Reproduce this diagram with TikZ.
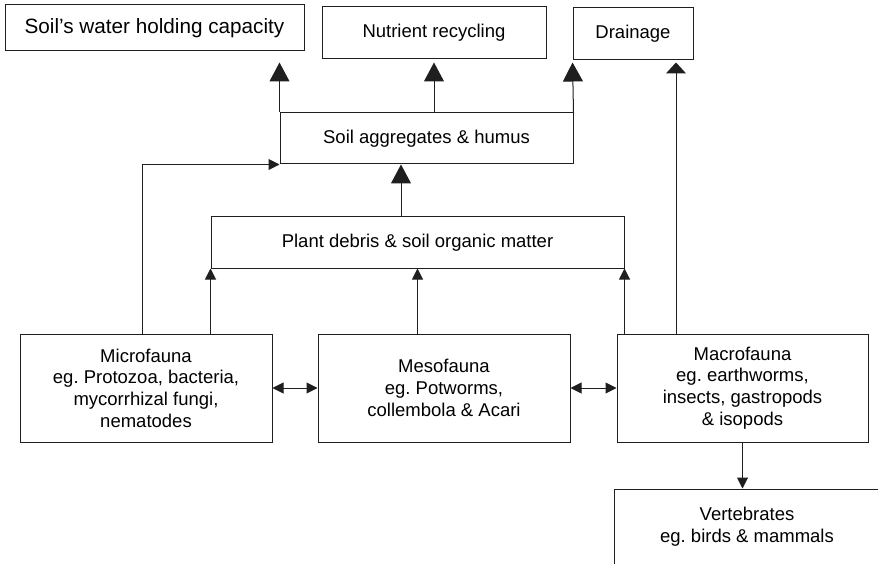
\documentclass[tikz,border=0pt]{standalone}
\usepackage{fontspec}
\setmainfont{Liberation Sans}
\usetikzlibrary{arrows.meta}
\frenchspacing
\begin{document}
\begin{tikzpicture}[x=1pt,y=-1pt,
  box/.style={draw=black!88, line width=1pt, fill=white, inner sep=0pt, align=center,
    font=\fontsize{18.5}{21.7}\selectfont},
  link/.style={draw=black!88, line width=1pt},
  bighead/.style={link, -{Triangle[width=20pt,length=19pt]}},
  flathead/.style={link, -{Triangle[width=20pt,length=11pt]}},
  smallhead/.style={link, -{Triangle[width=11pt,length=11pt]}},
  twohead/.style={link, {Triangle[width=11pt,length=11pt]}-{Triangle[width=11pt,length=11pt]}}]
\useasboundingbox (0,0) rectangle (878,564);
\clip (0,0) rectangle (878,564);

% outcomes
\node[box, minimum width=299pt, minimum height=46pt, font=\fontsize{20.7}{24}\selectfont]
  (water) at (154.5,28) {Soil’s water holding capacity};
\node[box, minimum width=224pt, minimum height=52pt] (nutrient) at (434,33) {Nutrient recycling};
\node[box, minimum width=120pt, minimum height=52pt] (drainage) at (633,34) {Drainage};

% intermediate pools
\node[box, minimum width=293pt, minimum height=51pt] (agg) at (426.5,138.5) {Soil aggregates \& humus};
\node[box, minimum width=413pt, minimum height=51pt] (plant) at (417.5,242.5) {Plant debris \& soil organic matter};

% soil fauna
\node[box, minimum width=252pt, minimum height=108pt] (micro) at (146,388)
  {Microfauna\\eg. Protozoa, bacteria,\\mycorrhizal fungi,\\nematodes};
\node[box, minimum width=252pt, minimum height=108pt] (meso) at (444,388)
  {Mesofauna\\eg. Potworms,\\collembola \& Acari};
\node[box, minimum width=251pt, minimum height=108pt] (macro) at (742.5,388)
  {Macrofauna\\eg. earthworms,\\insects, gastropods\\\& isopods};
\node[box, minimum width=266pt, minimum height=76pt] (vert) at (747,527)
  {Vertebrates\\eg. birds \& mammals};

% aggregates to outcomes
\draw[bighead, shorten >=11pt] (agg.north west) -- (water.south -| agg.north west);
\draw[bighead, shorten >=3pt] (agg.north -| nutrient.south) -- (nutrient.south);
\draw[bighead, shorten >=2pt] (agg.north east) -- (drainage.south west);
\draw[flathead, shorten >=2pt] (macro.north -| 676,0) -- (drainage.south -| 676,0);

% plant debris to aggregates
\draw[bighead] (plant.north -| 401,0) -- (agg.south -| 401,0);

% fauna to pools
\draw[smallhead] (micro.north -| 142,0) |- (agg.south west);
\draw[smallhead] (micro.north -| plant.south west) -- (plant.south west);
\draw[smallhead] (meso.north -| plant.south) -- (plant.south);
\draw[smallhead] (macro.north -| plant.south east) -- (plant.south east);

% interactions among fauna
\draw[twohead] (micro.east) -- (meso.west);
\draw[twohead] (meso.east) -- (macro.west);
\draw[smallhead] (macro.south) -- (vert.north -| macro.south);
\end{tikzpicture}
\end{document}
